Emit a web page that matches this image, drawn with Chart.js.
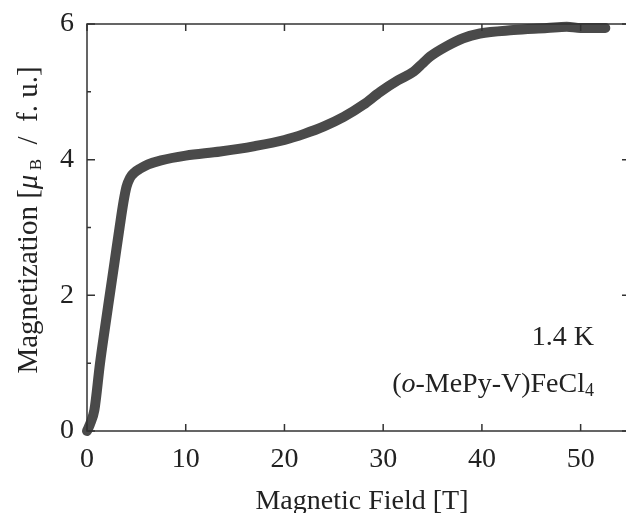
<!DOCTYPE html>
<html>
<head>
<meta charset="utf-8">
<script src="https://cdn.jsdelivr.net/npm/chart.js@4"></script>
<style>
  html, body { margin: 0; padding: 0; background: #fff; overflow: hidden; }
  #wrap { width: 640px; height: 513px; }
</style>
</head>
<body>
<div id="wrap"><canvas id="chartMag" width="640" height="513"></canvas></div>
<script>
// field in tesla, magnetization in muB per formula unit
const fieldT = [0, 0.3, 0.75, 1.32, 1.8, 2.3, 2.8, 3.3, 3.7, 4.0, 4.35, 4.8, 5.4, 6.2, 7.5, 10, 13.5, 17,
  20, 22, 24, 26, 28, 29.7, 31.5, 33.1, 34.0, 34.75, 36.4, 38.1, 39.8, 43.2, 46.6, 48.6, 50, 52.5];
const magMuB = [0, 0.1, 0.31, 1.0, 1.5, 2.0, 2.5, 3.0, 3.38, 3.6, 3.73, 3.81, 3.87, 3.93, 3.99, 4.06, 4.12, 4.2,
  4.29, 4.38, 4.49, 4.63, 4.81, 5.0, 5.17, 5.3, 5.42, 5.52, 5.67, 5.79, 5.86, 5.91, 5.94, 5.96, 5.94, 5.94];
const xTickValues = [0, 10, 20, 30, 40, 50];
const yTickValues = [0, 2, 4, 6];
const yMinorValues = [1, 3, 5];

const SERIF = "'Liberation Serif', 'Times New Roman', serif";
const INK = '#222';

// rich text helpers: measure then draw parts left to right
function measureParts(ctx, parts) {
  let total = 0;
  parts.forEach(p => { ctx.font = p.f; p.w = ctx.measureText(p.t).width; total += p.w; });
  return total;
}
function drawParts(ctx, parts, startX, baseY) {
  let cx = startX;
  parts.forEach(p => { ctx.font = p.f; ctx.fillText(p.t, cx, baseY + p.dy); cx += p.w; });
}

const framePlugin = {
  id: 'frameAndLabels',
  afterDraw(chart) {
    const { ctx, chartArea: a, scales } = chart;
    const x = scales.x, y = scales.y;
    ctx.save();
    // box
    ctx.strokeStyle = '#333';
    ctx.lineWidth = 1.5;
    ctx.strokeRect(a.left, a.top, a.right - a.left, a.bottom - a.top);
    // inward ticks
    ctx.beginPath();
    xTickValues.forEach(v => {
      const px = x.getPixelForValue(v);
      ctx.moveTo(px, a.bottom); ctx.lineTo(px, a.bottom - 7);
      ctx.moveTo(px, a.top); ctx.lineTo(px, a.top + 7);
    });
    yTickValues.forEach(v => {
      const py = y.getPixelForValue(v);
      ctx.moveTo(a.left, py); ctx.lineTo(a.left + 8, py);
      ctx.moveTo(a.right, py); ctx.lineTo(a.right - 8, py);
    });
    yMinorValues.forEach(v => {
      const py = y.getPixelForValue(v);
      ctx.moveTo(a.left, py); ctx.lineTo(a.left + 4, py);
      ctx.moveTo(a.right, py); ctx.lineTo(a.right - 4, py);
    });
    ctx.stroke();

    ctx.fillStyle = INK;
    ctx.textBaseline = 'alphabetic';

    // x title
    ctx.font = '28px ' + SERIF;
    ctx.textAlign = 'center';
    ctx.fillText('Magnetic Field [T]', 362, 509);

    // y title, rotated, with italic mu and subscript B
    ctx.textAlign = 'left';
    const parts = [
      { t: 'Magnetization [', f: '29px ' + SERIF, dy: 0 },
      { t: 'μ', f: 'italic 29px ' + SERIF, dy: 0 },
      { t: ' B', f: '17px ' + SERIF, dy: 4 },
      { t: '  /  f. u.]', f: '29px ' + SERIF, dy: 0 }
    ];
    const total = measureParts(ctx, parts);
    ctx.translate(37, 220);
    ctx.rotate(-Math.PI / 2);
    drawParts(ctx, parts, -total / 2, 0);
    ctx.setTransform(1, 0, 0, 1, 0, 0);

    // annotation
    ctx.textAlign = 'right';
    ctx.font = '28px ' + SERIF;
    ctx.fillText('1.4 K', 594, 345);
    ctx.textAlign = 'left';
    const ann = [
      { t: '(', f: '28px ' + SERIF, dy: 0 },
      { t: 'o', f: 'italic 28px ' + SERIF, dy: 0 },
      { t: '-MePy-V)FeCl', f: '28px ' + SERIF, dy: 0 },
      { t: '4', f: '18px ' + SERIF, dy: 4 }
    ];
    const aw = measureParts(ctx, ann);
    drawParts(ctx, ann, 594 - aw, 392);
    ctx.restore();
  }
};

const ctx = document.getElementById('chartMag').getContext('2d');
new Chart(ctx, {
  type: 'line',
  data: {
    datasets: [{
      data: fieldT.map((f, i) => ({ x: f, y: magMuB[i] })),
      borderColor: '#4a4a4a',
      backgroundColor: '#4a4a4a',
      borderWidth: 10,
      borderCapStyle: 'round',
      borderJoinStyle: 'round',
      cubicInterpolationMode: 'monotone',
      pointRadius: 0,
      clip: false
    }]
  },
  options: {
    responsive: false,
    animation: false,
    events: [],
    layout: { padding: { top: 24, right: 10, left: 0, bottom: 0 } },
    plugins: { legend: { display: false }, tooltip: { enabled: false } },
    scales: {
      x: {
        type: 'linear',
        min: 0, max: 55,
        afterFit(scale) { scale.height = 82; scale.paddingLeft = 0; scale.paddingRight = 0; },
        afterBuildTicks(scale) { scale.ticks = xTickValues.map(v => ({ value: v })); },
        grid: { display: false, drawTicks: false },
        border: { display: false },
        ticks: { color: INK, font: { family: SERIF, size: 28 }, padding: 12, maxRotation: 0 }
      },
      y: {
        type: 'linear',
        min: 0, max: 6,
        afterFit(scale) { scale.width = 87; scale.paddingTop = 0; scale.paddingBottom = 0; },
        afterBuildTicks(scale) { scale.ticks = yTickValues.map(v => ({ value: v })); },
        grid: { display: false, drawTicks: false },
        border: { display: false },
        ticks: { color: INK, font: { family: SERIF, size: 28 }, padding: 13 }
      }
    }
  },
  plugins: [framePlugin]
});
</script>
</body>
</html>
